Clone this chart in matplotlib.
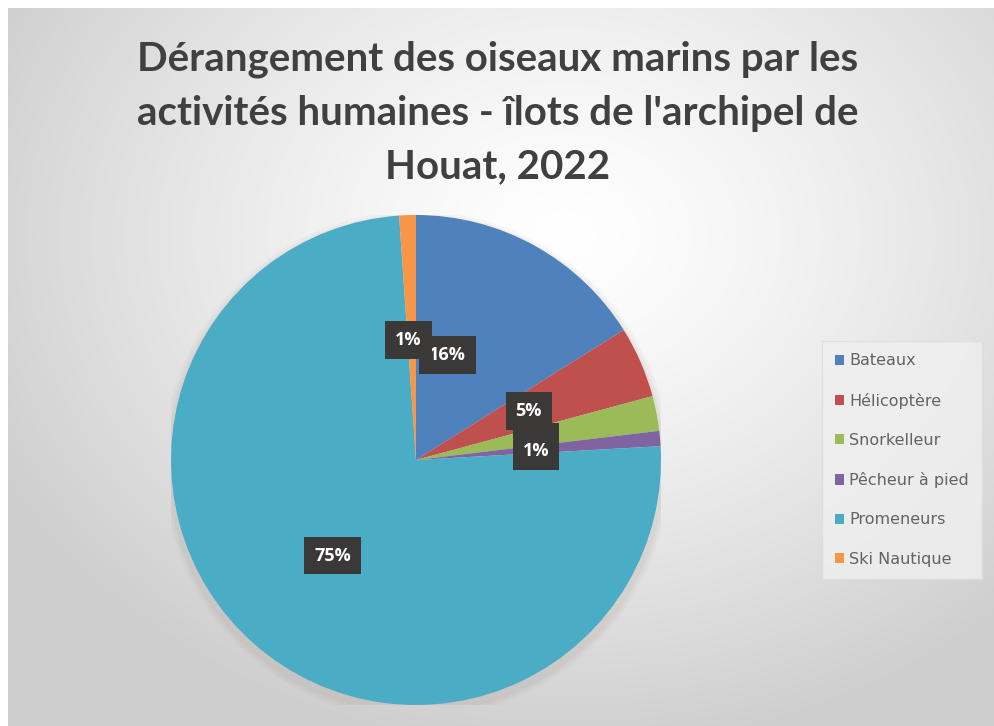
import numpy as np
import matplotlib
matplotlib.use("Agg")
import matplotlib.pyplot as plt

# --- data (percent of disturbances) ---
categories = ["Bateaux", "Hélicoptère", "Snorkelleur", "Pêcheur à pied",
              "Promeneurs", "Ski Nautique"]
shares = [16.1, 4.7, 2.3, 1.0, 74.8, 1.1]
pct_labels = ["16%", "5%", "2%", "1%", "75%", "1%"]
colors = ["#4F81BD", "#C0504D", "#9BBB59", "#8064A2", "#4BACC6", "#F79646"]

# label anchor points (in pie-radius units), roughly Excel's "best fit"
# the Snorkelleur label ends up buried under its neighbours, like in Excel
label_xy = [(0.13, 0.43), (0.46, 0.20), (0.49, 0.075), (0.49, 0.035),
            (-0.34, -0.39), (-0.03, 0.49)]
label_z = [5, 5, 6, 7, 5, 5]

title = ("Dérangement des oiseaux marins par les\n"
         "activités humaines - îlots de l'archipel de\n"
         "Houat, 2022")

W, H = 995, 726
fig = plt.figure(figsize=(W / 100, H / 100), dpi=100)
fig.patch.set_facecolor("white")

# background: soft radial gradient, light near the top, grey at the edges
bg = fig.add_axes([8 / W, 0, 1 - 8 / W, 1 - 8 / H], zorder=0)
yy, xx = np.mgrid[0:H, 0:W]
d = np.sqrt(((xx - 560) / 640.0) ** 2 + ((yy - 230) / 520.0) ** 2)
shade = 1.0 - 0.19 * np.clip(d, 0, 1) ** 1.3
bg.imshow(np.dstack([shade] * 3), aspect="auto", extent=[0, 1, 0, 1])
bg.set_axis_off()

# pie
cx, cy, r = 416, 460, 245
ax = fig.add_axes([(cx - r) / W, 1 - (cy + r) / H, 2 * r / W, 2 * r / H],
                  zorder=2)
ax.set_facecolor("none")

# faint shadow under the pie
for k, a in zip([1.035, 1.025, 1.015], [0.05, 0.06, 0.08]):
    ax.add_patch(plt.Circle((0.0, -0.02), k, color="#9a8a80", alpha=a, lw=0))

wedges, _ = ax.pie(shares, colors=colors, startangle=90, counterclock=False,
                   radius=1.0, wedgeprops=dict(linewidth=0))
ax.set_xlim(-1, 1)
ax.set_ylim(-1, 1)
ax.set_aspect("equal")
ax.set_axis_off()

for (lx, ly), txt, z in zip(label_xy, pct_labels, label_z):
    ax.text(lx, ly, txt, ha="center", va="center", color="white",
            fontsize=13, fontweight="bold", family="Open Sans", zorder=z,
            bbox=dict(boxstyle="square,pad=0.55", fc="#3b3838", ec="none"))

fig.text(0.5, 1 - 113 / H, title, ha="center", va="center",
         fontsize=29, fontweight="bold", family="Lato", color="#404040",
         linespacing=1.55)

leg = fig.legend(wedges, categories, loc="center left",
                 bbox_to_anchor=(822 / W, 1 - 460 / H), frameon=True,
                 prop=dict(family="DejaVu Sans", size=11.5),
                 labelcolor="#636363", handlelength=0.6, handleheight=0.6,
                 handletextpad=0.3, labelspacing=1.52, borderpad=0.8,
                 borderaxespad=0)
leg.get_frame().set_facecolor("#f0f0f0")
leg.get_frame().set_edgecolor("#dcdcdc")
leg.get_frame().set_boxstyle("square", pad=0)
leg.set_zorder(3)

fig.savefig("out.png", dpi=100)
